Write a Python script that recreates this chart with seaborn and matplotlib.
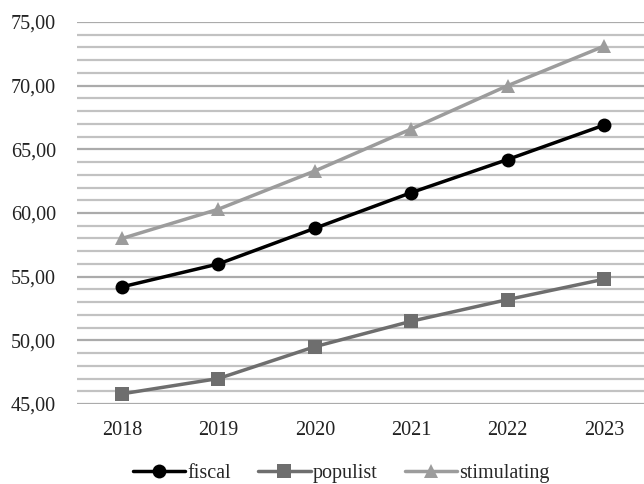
import pandas as pd
import seaborn as sns
import matplotlib.pyplot as plt

# values
years = ["2018", "2019", "2020", "2021", "2022", "2023"]
fiscal = [54.2, 56.0, 58.8, 61.6, 64.2, 66.9]
populist = [45.8, 47.0, 49.5, 51.5, 53.2, 54.8]
stimulating = [58.0, 60.3, 63.3, 66.6, 70.0, 73.1]

series = ["fiscal", "populist", "stimulating"]
colors = ["#000000", "#6e6e6e", "#9c9c9c"]
markers = ["o", "s", "^"]

df = pd.DataFrame({
    "year": years * 3,
    "value": fiscal + populist + stimulating,
    "scenario": [s for s in series for _ in years],
})
df["x"] = df["year"].map({y: i for i, y in enumerate(years)})

sns.set_style("white")
plt.rcParams["font.family"] = ["Liberation Serif", "DejaVu Serif"]

fig = plt.figure(figsize=(6.44, 4.84), dpi=100)
ax = fig.add_axes([77 / 644, 80 / 484, 1 - 77 / 644, 382 / 484])

# horizontal gridlines every 1.0, majors every 5
for v in range(45, 76):
    ax.axhline(v, color="#ababab" if v % 5 == 0 else "#c2c2c2",
               lw=1.6, zorder=0)

sns.lineplot(data=df, x="x", y="value", hue="scenario", style="scenario",
             palette=dict(zip(series, colors)),
             markers=dict(zip(series, markers)), dashes=False,
             markersize=10, linewidth=2.5, markeredgewidth=0,
             ax=ax, zorder=3)

ax.set_xlim(-0.467, 5.415)
ax.set_ylim(45, 75)
ax.set_xticks(range(len(years)))
ax.set_xticklabels(years)
ax.set_yticks(range(45, 76, 5))
ax.set_yticklabels([f"{v},00" for v in range(45, 76, 5)])
ax.tick_params(axis="both", length=0, labelsize=14.5, colors="#222222")
ax.tick_params(axis="x", pad=12)
ax.tick_params(axis="y", pad=15)
ax.set_xlabel("")
ax.set_ylabel("")
for s in ax.spines.values():
    s.set_visible(False)

handles, labels = ax.get_legend_handles_labels()
ax.legend(handles, labels, loc="center", bbox_to_anchor=(0.466, -0.182),
          ncol=3, frameon=False, fontsize=14.5, handlelength=2.6,
          handletextpad=0.1, columnspacing=1.35, markerscale=1.0,
          borderpad=0.2)

fig.savefig("out.png", dpi=100)
